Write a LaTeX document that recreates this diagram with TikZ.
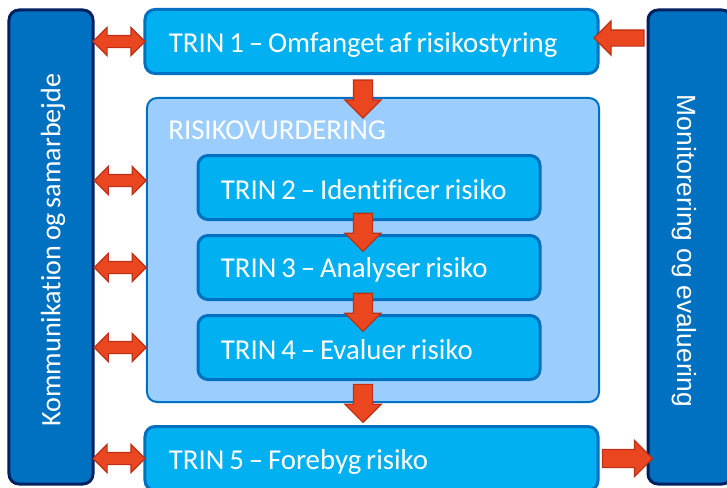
\documentclass[tikz,border=0pt]{standalone}
\usepackage{fontspec}
\setmainfont{Carlito}[WordSpace=0.75,Ligatures=NoCommon]
\newfontfamily\arialfont{Liberation Sans}
\usetikzlibrary{shapes.arrows,calc}

\definecolor{stepfill}{RGB}{0,176,240}
\definecolor{stepedge}{RGB}{0,112,192}
\definecolor{groupfill}{RGB}{155,205,255}
\definecolor{barfill}{RGB}{0,112,192}
\definecolor{baredge}{RGB}{0,32,96}
\definecolor{arrowfill}{RGB}{234,70,32}
\definecolor{arrowedge}{RGB}{190,48,22}

\begin{document}
\begin{tikzpicture}[x=0.2mm,y=-0.2mm,
    stepbox/.style={draw=stepedge,fill=stepfill,line width=0.6mm,rounded corners=2mm,
      minimum height=12.8mm},
    steptext/.style={anchor=west,inner sep=0pt,text=white,font=\fontsize{16.4}{19}\selectfont},
    sidebar/.style={draw=baredge,fill=barfill,line width=0.6mm,rounded corners=2mm,
      minimum width=94.8mm,minimum height=16.8mm},
    bartext/.style={text=white,font=\fontsize{16}{19}\selectfont},
    downarr/.style={single arrow,draw=arrowedge,fill=arrowfill,line width=0.7pt,
      shape border rotate=270,inner sep=1.8mm,minimum height=7.6mm,
      single arrow head extend=1.7mm},
    sidearr/.style={single arrow,draw=arrowedge,fill=arrowfill,line width=0.7pt,
      inner sep=1.5mm,minimum height=10mm,single arrow head extend=1.8mm},
    dblarr/.style={double arrow,draw=arrowedge,fill=arrowfill,line width=0.7pt,
      inner sep=1.1mm,minimum height=10.4mm,double arrow head extend=1.6mm}]

  \useasboundingbox (0,0) rectangle (727,487);
  \clip (0,0) rectangle (727,487);

  % side bars
  \node[sidebar,rotate=90] (komm) at (51,247) {};
  \node[bartext,rotate=90] (kommtxt) at (53,250) {Kommunikation og samarbejde};
  \node[sidebar,rotate=-90] (moni) at (690,247) {};
  \node[bartext,rotate=-90,font=\arialfont\fontsize{15}{18}\selectfont]
    (monitxt) at (684,251) {Monitorering og evaluering};

  % risikovurdering
  \node[draw=stepedge,fill=groupfill,line width=0.4mm,rounded corners=2mm,
    minimum width=90.4mm,minimum height=60.8mm] (rv) at (373,250) {};
  \node[steptext] (rvlabel) at (168,130) {RISIKOVURDERING};

  % trin
  \node[stepbox,minimum width=90.6mm] (t1) at (371.5,41.5) {};
  \node[stepbox,minimum width=68.4mm] (t2) at (369,187.5) {};
  \node[stepbox,minimum width=68.4mm] (t3) at (369,267.5) {};
  \node[stepbox,minimum width=68.4mm] (t4) at (369,347.5) {};
  \node[stepbox,minimum width=90.6mm] (t5) at (371.5,458.5) {};
  \node[steptext] (t1txt) at ([xshift=5mm,yshift=-0.6mm]t1.west) {TRIN 1 -- Omfanget af risikostyring};
  \node[steptext] (t2txt) at ([xshift=4.8mm,yshift=-0.4mm]t2.west) {TRIN 2 -- Identificer risiko};
  \node[steptext] (t3txt) at ([xshift=4.8mm,yshift=-0.4mm]t3.west) {TRIN 3 -- Analyser risiko};
  \node[steptext] (t4txt) at ([xshift=4.8mm,yshift=-0.4mm]t4.west) {TRIN 4 -- Evaluer risiko};
  \node[steptext] (t5txt) at ([xshift=5mm,yshift=-0.6mm]t5.west) {TRIN 5 -- Forebyg risiko};

  % pile ned
  \path ([xshift=-1.7mm]t1.south) -- ([xshift=-1.7mm]t1.south |- rv.north)
    node[downarr,pos=0.2,anchor=tail] (n1) {};
  \path ([xshift=-1.2mm]t2.south) -- ([xshift=-1.2mm]t3.north)
    node[downarr,midway] (n2) {};
  \path ([xshift=-1.2mm]t3.south) -- ([xshift=-1.2mm]t4.north)
    node[downarr,midway] (n3) {};
  \path ([xshift=-2mm]rv.south) -- ([xshift=-2mm]rv.south |- t5.north)
    node[downarr,pos=0.92,anchor=tip] (n4) {};

  % kommunikation
  \path (komm.south |- t1.west) -- (t1.west) node[dblarr,midway] (k1) {};
  \path ([yshift=1.4mm]komm.south |- t2.west) -- ([yshift=1.4mm]rv.west |- t2.west)
    node[dblarr,midway] (k2) {};
  \path (komm.south |- t3.west) -- (rv.west |- t3.west) node[dblarr,midway] (k3) {};
  \path (komm.south |- t4.west) -- (rv.west |- t4.west) node[dblarr,midway] (k4) {};
  \path (komm.south |- t5.west) -- (t5.west) node[dblarr,midway] (k5) {};

  % monitorering
  \path ([yshift=0.7mm]moni.south |- t1.east) -- ([yshift=0.7mm]t1.east)
    node[sidearr,midway,shape border rotate=180] (m1) {};
  \path (t5.east) -- (moni.south |- t5.east)
    node[sidearr,midway,inner sep=1.7mm] (m5) {};
\end{tikzpicture}
\end{document}
